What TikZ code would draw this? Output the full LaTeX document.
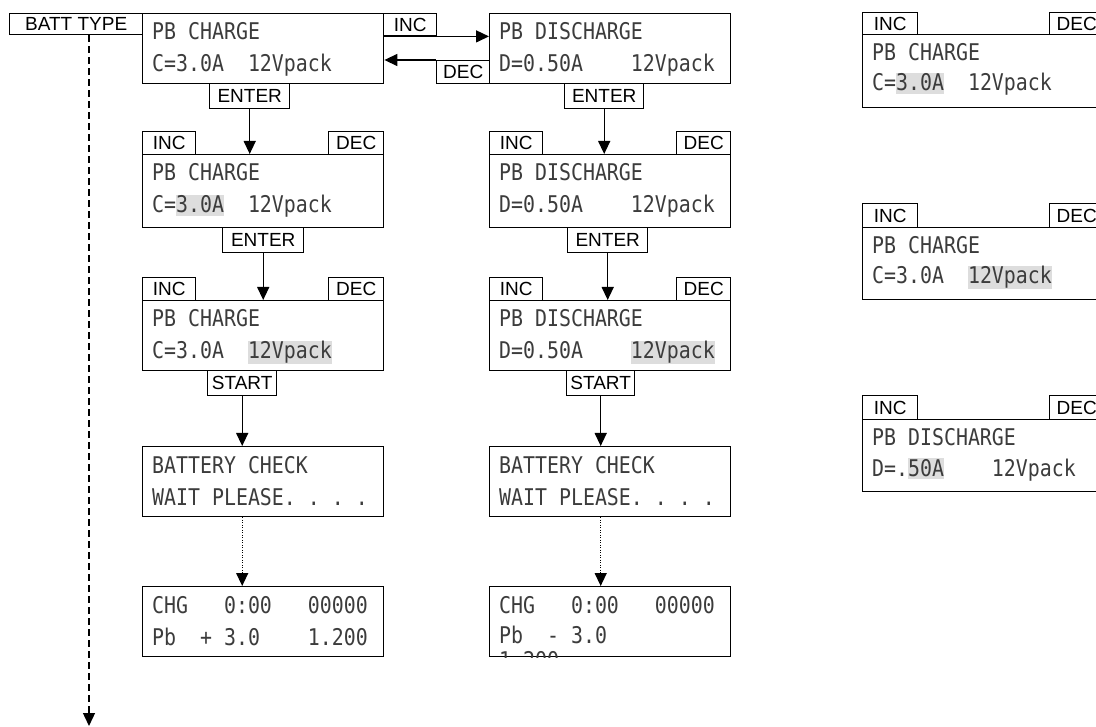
\documentclass[tikz,border=0pt]{standalone}
\usepackage{fontspec}
\usetikzlibrary{arrows.meta}
\newfontfamily\lcdfamily[FakeStretch=0.865, WordSpace={1,0,0}]{DejaVu Sans Mono}
\newfontfamily\btnfamily{Liberation Sans}
\definecolor{lcdcol}{RGB}{60,60,60}
\definecolor{hlcol}{RGB}{221,221,221}
\newcommand\hl[1]{{\setlength{\fboxsep}{0pt}\colorbox{hlcol}{\rule[-3pt]{0pt}{21pt}#1}}}
\tikzset{
  lcdbox/.style={draw, line width=1.4pt, inner sep=0pt, anchor=north west, minimum width=241pt},
  btn/.style={draw, line width=1.4pt, fill=white, inner sep=0pt, anchor=north west,
    font=\btnfamily\fontsize{19}{22}\selectfont},
  lcdtxt/.style={inner sep=0pt, anchor=base west, text=lcdcol,
    font=\lcdfamily\fontsize{23}{26}\selectfont},
  arr/.style={line width=1.4pt, -{Triangle[length=13pt,width=12pt]}},
  dotline/.style={line width=1pt, dash pattern=on 1pt off 1.5pt},
}
\begin{document}
\begin{tikzpicture}[x=1pt,y=-1pt]
\clip (0,0) rectangle (1096,727);
\fill[white] (0,0) rectangle (1096,727);

% ---------- charge column ----------
\node[btn, minimum width=133pt, minimum height=21pt] (bt) at (9,13) {BATT TYPE};
\node[lcdbox, minimum height=70pt] (c1) at (142,13) {};
\node[lcdtxt] (c1a) at ([shift={(10,27)}]c1.north west) {PB~CHARGE};
\node[lcdtxt] (c1b) at ([shift={(10,59)}]c1.north west) {C=3.0A~~12Vpack};
\node[btn, minimum width=53pt, minimum height=22pt] (inc1) at (383,13) {INC};
\node[btn, minimum width=53pt, minimum height=23pt] (dec1) at (436,60) {DEC};
\node[btn, minimum width=80pt, minimum height=25pt] (e1) at (209,83) {ENTER};

\node[btn, minimum width=53pt, minimum height=23pt] (inc2) at (142,131) {INC};
\node[btn, minimum width=55pt, minimum height=23pt] (dec2) at (328,131) {DEC};
\node[lcdbox, minimum height=73pt] (c2) at (142,154) {};
\node[lcdtxt] (c2a) at ([shift={(10,27)}]c2.north west) {PB~CHARGE};
\node[lcdtxt] (c2b) at ([shift={(10,59)}]c2.north west) {C=\hl{3.0A}~~12Vpack};
\node[btn, minimum width=81pt, minimum height=25pt] (e2) at (222,227) {ENTER};

\node[btn, minimum width=53pt, minimum height=23pt] (inc3) at (142,277) {INC};
\node[btn, minimum width=55pt, minimum height=23pt] (dec3) at (328,277) {DEC};
\node[lcdbox, minimum height=70pt] (c3) at (142,300) {};
\node[lcdtxt] (c3a) at ([shift={(10,27)}]c3.north west) {PB~CHARGE};
\node[lcdtxt] (c3b) at ([shift={(10,59)}]c3.north west) {C=3.0A~~\hl{12Vpack}};
\node[btn, minimum width=69pt, minimum height=25pt] (s1) at (207,370) {START};

\node[lcdbox, minimum height=70pt] (c4) at (142,446) {};
\node[lcdtxt] (c4a) at ([shift={(10,27)}]c4.north west) {BATTERY~CHECK};
\node[lcdtxt] (c4b) at ([shift={(10,59)}]c4.north west) {WAIT~PLEASE.~.~.~.};

\node[lcdbox, minimum height=70pt] (c5) at (142,586) {};
\node[lcdtxt] (c5a) at ([shift={(10,27)}]c5.north west) {CHG~~~0:00~~~00000};
\node[lcdtxt] (c5b) at ([shift={(10,59)}]c5.north west) {Pb~~+~3.0~~~~1.200};

% ---------- discharge column ----------
\node[lcdbox, minimum height=70pt] (d1) at (489,13) {};
\node[lcdtxt] (d1a) at ([shift={(10,27)}]d1.north west) {PB~DISCHARGE};
\node[lcdtxt] (d1b) at ([shift={(10,59)}]d1.north west) {D=0.50A~~~~12Vpack};
\node[btn, minimum width=79pt, minimum height=25pt] (e3) at (564,83) {ENTER};

\node[btn, minimum width=53pt, minimum height=23pt] (inc4) at (489,131) {INC};
\node[btn, minimum width=54pt, minimum height=23pt] (dec4) at (676,131) {DEC};
\node[lcdbox, minimum height=73pt] (d2) at (489,154) {};
\node[lcdtxt] (d2a) at ([shift={(10,27)}]d2.north west) {PB~DISCHARGE};
\node[lcdtxt] (d2b) at ([shift={(10,59)}]d2.north west) {D=0.50A~~~~12Vpack};
\node[btn, minimum width=80pt, minimum height=25pt] (e4) at (567,227) {ENTER};

\node[btn, minimum width=53pt, minimum height=23pt] (inc5) at (489,277) {INC};
\node[btn, minimum width=54pt, minimum height=23pt] (dec5) at (676,277) {DEC};
\node[lcdbox, minimum height=70pt] (d3) at (489,300) {};
\node[lcdtxt] (d3a) at ([shift={(10,27)}]d3.north west) {PB~DISCHARGE};
\node[lcdtxt] (d3b) at ([shift={(10,59)}]d3.north west) {D=0.50A~~~~\hl{12Vpack}};
\node[btn, minimum width=68pt, minimum height=25pt] (s2) at (566,370) {START};

\node[lcdbox, minimum height=70pt] (d4) at (489,446) {};
\node[lcdtxt] (d4a) at ([shift={(10,27)}]d4.north west) {BATTERY~CHECK};
\node[lcdtxt] (d4b) at ([shift={(10,59)}]d4.north west) {WAIT~PLEASE.~.~.~.};

\node[lcdbox, minimum height=70pt] (d5) at (489,586) {};
\node[lcdtxt] (d5a) at ([shift={(10,27)}]d5.north west) {CHG~~~0:00~~~00000};
\node[lcdtxt] (d5b) at ([shift={(10,57)}]d5.north west) {Pb~~-~3.0};
\begin{scope}
\clip (d5.north west) rectangle (d5.south east);
\node[lcdtxt] (d5c) at ([shift={(10,82)}]d5.north west) {1.200};
\end{scope}

% ---------- right column ----------
\node[btn, minimum width=55pt, minimum height=22pt] (inc6) at (862,12) {INC};
\node[btn, minimum width=54pt, minimum height=22pt] (dec6) at (1049,12) {DEC};
\node[lcdbox, minimum height=73pt] (r1) at (862,34) {};
\node[lcdtxt] (r1a) at ([shift={(10,27)}]r1.north west) {PB~CHARGE};
\node[lcdtxt] (r1b) at ([shift={(10,57)}]r1.north west) {C=\hl{3.0A}~~12Vpack};

\node[btn, minimum width=55pt, minimum height=24pt] (inc7) at (862,203) {INC};
\node[btn, minimum width=54pt, minimum height=24pt] (dec7) at (1049,203) {DEC};
\node[lcdbox, minimum height=72pt] (r2) at (862,227) {};
\node[lcdtxt] (r2a) at ([shift={(10,27)}]r2.north west) {PB~CHARGE};
\node[lcdtxt] (r2b) at ([shift={(10,57)}]r2.north west) {C=3.0A~~\hl{12Vpack}};

\node[btn, minimum width=55pt, minimum height=24pt] (inc8) at (862,395) {INC};
\node[btn, minimum width=54pt, minimum height=24pt] (dec8) at (1049,395) {DEC};
\node[lcdbox, minimum height=72pt] (r3) at (862,419) {};
\node[lcdtxt] (r3a) at ([shift={(10,27)}]r3.north west) {PB~DISCHARGE};
\node[lcdtxt] (r3b) at ([shift={(10,57)}]r3.north west) {D=.\hl{50A}~~~~12Vpack};

% ---------- connectors ----------
\draw[arr] (inc1.south west) -- (inc1.south west -| d1.west);
\draw[arr] (dec1.north west) -- (dec1.north west -| c1.east);
\draw[arr] (e1.south) -- (e1.south |- c2.north);
\draw[arr] (e2.south) -- (e2.south |- c3.north);
\draw[arr] (s1.south) -- (s1.south |- c4.north);
\draw[arr] (e3.south) -- (e3.south |- d2.north);
\draw[arr] (e4.south) -- (e4.south |- d3.north);
\draw[arr] (s2.south) -- (s2.south |- d4.north);

\coordinate (cdot) at ([shift={(0,-14)}]s1.south |- c5.north);
\draw[dotline] (s1.south |- c4.south) -- (cdot);
\draw[arr] (cdot) -- (cdot |- c5.north);
\coordinate (ddot) at ([shift={(0,-14)}]s2.south |- d5.north);
\draw[dotline] (s2.south |- d4.south) -- (ddot);
\draw[arr] (ddot) -- (ddot |- d5.north);

\coordinate (btend) at (89,726);
\draw[line width=1.4pt, dash pattern=on 7pt off 4pt] (btend |- bt.south) -- ([shift={(0,-14)}]btend);
\draw[arr] ([shift={(0,-14)}]btend) -- (btend);
\end{tikzpicture}
\end{document}
